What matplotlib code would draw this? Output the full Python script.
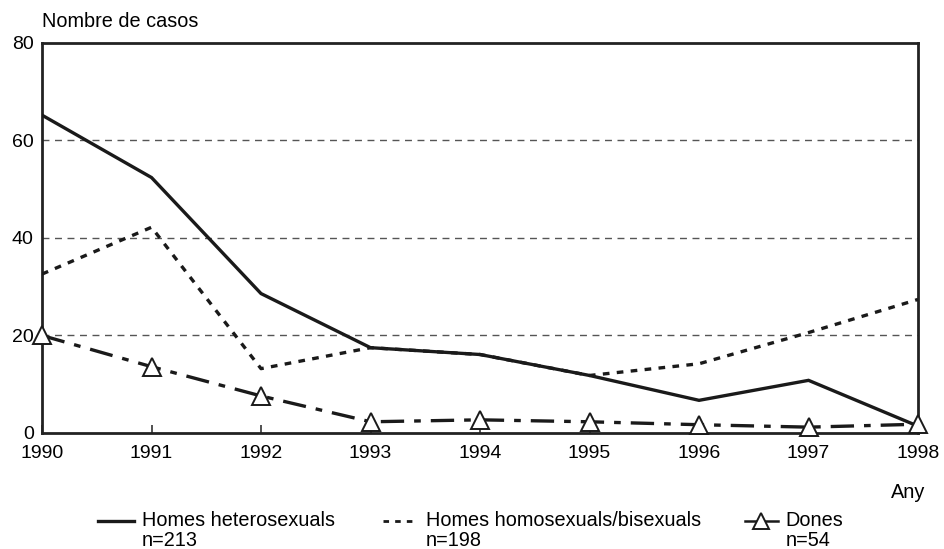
import matplotlib.pyplot as plt
from matplotlib.lines import Line2D

plt.rcParams['font.family'] = ['Liberation Sans', 'DejaVu Sans']

years = [1990, 1991, 1992, 1993, 1994, 1995, 1996, 1997, 1998]
hetero = [65.2, 52.4, 28.6, 17.5, 16.1, 11.8, 6.7, 10.8, 1.4]
homo = [32.6, 42.2, 13.2, 17.5, 16.1, 11.8, 14.2, 20.6, 27.4]
dones = [20.0, 13.6, 7.6, 2.3, 2.7, 2.3, 1.7, 1.2, 1.8]

labels = ['Homes heterosexuals', 'Homes homosexuals/bisexuals', 'Dones']
ns = ['n=213', 'n=198', 'n=54']

fig = plt.figure(figsize=(9.44, 5.49), dpi=100)
ax = fig.add_axes([0.0445, 0.2113, 0.928, 0.7104])

for y in [20, 40, 60]:
    ax.axhline(y, color='#555555', lw=1.0, dashes=(5, 4), zorder=1)

ax.plot(years, hetero, color='#1a1a1a', lw=2.4, solid_joinstyle='miter', zorder=3)
ax.plot(years, homo, color='#1a1a1a', lw=2.4, dashes=(2, 2.2), zorder=3)
ax.plot(years, dones, color='#1a1a1a', lw=2.4, dashes=(7, 3, 2, 3),
        marker='^', markersize=13, markerfacecolor='white',
        markeredgecolor='#1a1a1a', markeredgewidth=1.4, zorder=4, clip_on=False)

ax.set_xlim(1990, 1998)
ax.set_ylim(0, 80)
ax.set_xticks(years)
ax.set_yticks([0, 20, 40, 60, 80])
ax.tick_params(axis='x', direction='in', length=6, width=1.2, color='#333333',
               labelsize=14, pad=9)
ax.tick_params(axis='y', length=0, labelsize=14, pad=6)
for s in ax.spines.values():
    s.set_linewidth(2)
    s.set_color('#222222')

fig.text(42 / 944, 0.96, 'Nombre de casos', fontsize=14.3, va='center', ha='left')
fig.text(925 / 944, 1 - 493 / 549, 'Any', fontsize=14.3, va='center', ha='right')

# legend drawn by hand: handle beside first line, n= below
styles = [dict(lw=2.4), dict(lw=2.0, dashes=(2, 2.2)),
          dict(lw=1.8, marker='^', markersize=11, markerfacecolor='white',
               markeredgewidth=1.4)]
hx = [(98, 134), (383, 418), (745, 778)]
for (x0, x1), lab, n, st in zip(hx, labels, ns, styles):
    x0, x1 = x0 / 944, x1 / 944
    y = 1 - 521 / 549
    xm = [x0, (x0 + x1) / 2, x1] if 'marker' in st else [x0, x1]
    ln = Line2D(xm, [y] * len(xm), color='#1a1a1a', transform=fig.transFigure,
                markevery=[1] if 'marker' in st else None, **st)
    fig.add_artist(ln)
    fig.text(x1 + 0.008, y, lab, fontsize=14.3, va='center', ha='left')
    fig.text(x1 + 0.008, 1 - 541 / 549, n, fontsize=14.3, va='center', ha='left')

fig.savefig('out.png', dpi=100)
